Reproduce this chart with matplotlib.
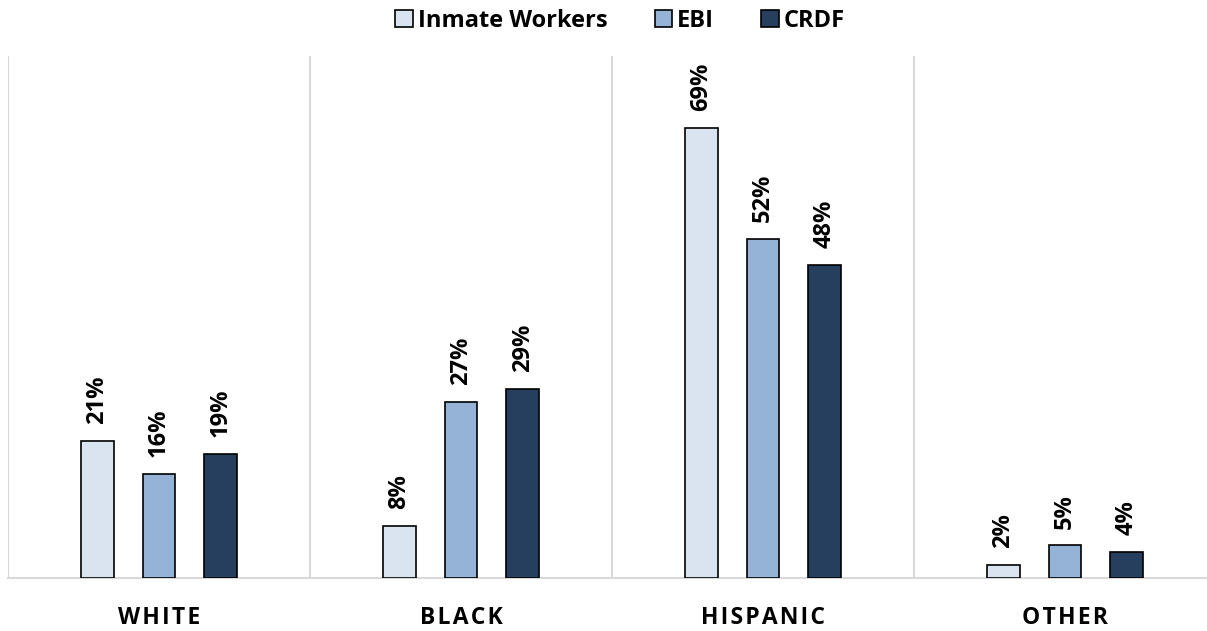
import numpy as np
import matplotlib.pyplot as plt
from matplotlib.patches import Patch

categories = ['WHITE', 'BLACK', 'HISPANIC', 'OTHER']
series = ['Inmate Workers', 'EBI', 'CRDF']
inmate_workers = [21, 8, 69, 2]
ebi = [16, 27, 52, 5]
crdf = [19, 29, 48, 4]
colors = ['#DAE3F0', '#95B3D7', '#263F5E']

plt.rcParams['font.family'] = ['Open Sans', 'DejaVu Sans']

fig = plt.figure(figsize=(12.07, 6.31), dpi=100)
# axes runs a little past the right edge, like the original export
ax = fig.add_axes([8 / 1207, 53 / 631, 1208 / 1207, 522 / 631])

x = np.arange(len(categories))
width = 0.109
step = 0.205
for i, (vals, col) in enumerate(zip([inmate_workers, ebi, crdf], colors)):
    pos = x + (i - 1) * step
    ax.bar(pos, vals, width, color=col, edgecolor='black', linewidth=1.2, zorder=3)
    for p, v in zip(pos, vals):
        ax.annotate(f'{v}%', (p, v), xytext=(0, 12), textcoords='offset points',
                    rotation=90, ha='center', va='bottom', fontsize=17,
                    fontweight='bold', color='black')

ax.set_xlim(-0.5, 3.5)
ax.set_ylim(0, 80)

# separators between the groups
for b in [0.5, 1.5, 2.5]:
    ax.axvline(b, color='#D9D9D9', linewidth=1.5, zorder=1)
ax.axvline(-0.5, color='#D9D9D9', linewidth=1.5, zorder=1)

for s in ['top', 'right', 'left']:
    ax.spines[s].set_visible(False)
ax.spines['bottom'].set_color('#D9D9D9')
ax.spines['bottom'].set_linewidth(1.5)
ax.set_yticks([])
ax.set_xticks(x)
# spaced-out capitals, as in the original
ax.set_xticklabels(['\u200a'.join(c) for c in categories], fontsize=16.5, fontweight='bold')
ax.tick_params(axis='x', length=0, pad=20)

handles = [Patch(facecolor=c, edgecolor='black', linewidth=1.2) for c in colors]
fig.legend(handles, series, loc='center', bbox_to_anchor=(620 / 1207, 1 - 21 / 631),
           ncol=3, frameon=False, prop={'weight': 'bold', 'size': 17},
           handlelength=0.75, handleheight=0.75, handletextpad=0.2, columnspacing=2.0)

fig.savefig('out.png', dpi=100)
